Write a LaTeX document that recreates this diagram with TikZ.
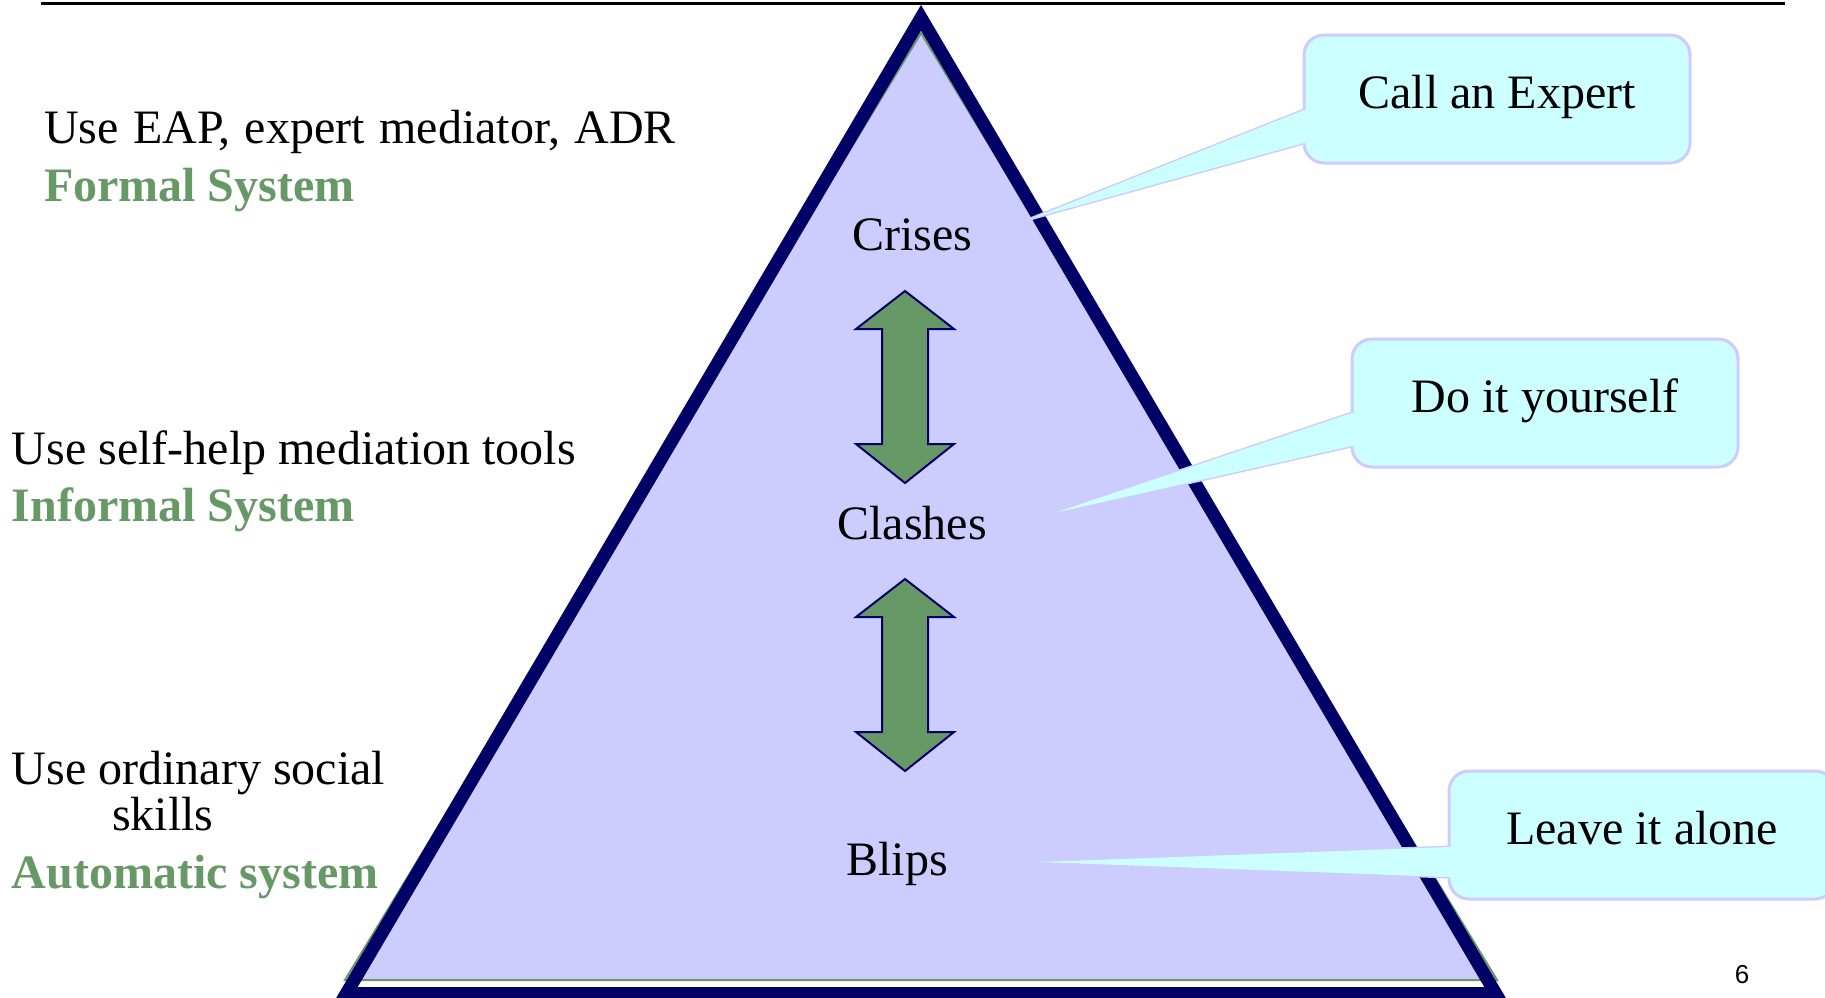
\documentclass[tikz,border=0pt]{standalone}
\usepackage{fontspec}
\setmainfont{Liberation Serif}
\newfontfamily\pagenumfont{Liberation Sans}
\usetikzlibrary{calc}
\definecolor{navy}{HTML}{000066}
\definecolor{lavender}{HTML}{CCCCFF}
\definecolor{sagegreen}{HTML}{669966}
\definecolor{paleaqua}{HTML}{CCFFFF}

\begin{document}
\begin{tikzpicture}[x=1pt,y=-1pt,
  txt/.style={inner sep=0pt, outer sep=0pt, anchor=base west, font=\fontsize{48}{58}\selectfont},
  sys/.style={txt, font=\fontsize{48}{58}\selectfont\bfseries, text=sagegreen},
  lvl/.style={inner sep=0pt, outer sep=0pt, anchor=base, font=\fontsize{48}{58}\selectfont},
  callbox/.style={draw=lavender, fill=paleaqua, line width=3pt, rounded corners=20pt,
    minimum width=386pt, minimum height=128pt, inner sep=0pt, outer sep=0pt,
    text height=30pt, text depth=12pt, font=\fontsize{48}{58}\selectfont},
  callfill/.style={fill=paleaqua},
  calledge/.style={draw=lavender, line width=3pt, line join=miter},
  blockarrow/.style={fill=sagegreen, draw=navy, line width=2pt, line join=miter}
]
\useasboundingbox (0,0) rectangle (1825,997);
\clip (0,0) rectangle (1825,997);

% rule across the top
\coordinate (ruleL) at (41,3);
\coordinate (ruleR) at (1785,3);
\draw[line width=3pt] (ruleL) -- (ruleR);

% pyramid: lavender body with green rim, navy frame on top
\filldraw[fill=lavender, draw=sagegreen, line width=2pt] (921,33) -- (345,980) -- (1497,980) -- cycle;
\draw[navy, line width=13pt, line join=miter] (921,17.8) -- (346.3,993.5) -- (1495.7,993.5) -- cycle;

% levels of the pyramid
\node[lvl] (crises)  at (912,250) {Crises};
\node[lvl] (clashes) at (912,539) {Clashes};
\node[lvl] (blips)   at (897,875) {Blips};

% two-way block arrows between the levels
\draw[blockarrow] (905,291) -- (954,329) -- (928,329) -- (928,444) -- (954,444) -- (905,483)
  -- (856,444) -- (882,444) -- (882,329) -- (856,329) -- cycle;
\draw[blockarrow] (905,579) -- (954,617) -- (928,617) -- (928,732) -- (954,732) -- (905,771)
  -- (856,732) -- (882,732) -- (882,617) -- (856,617) -- cycle;

% left-hand descriptions
\node[txt] (formalUse)   at (44,143) {\spaceskip=14.5pt plus 2pt Use EAP, expert mediator, ADR};
\node[sys] (formalSys)   at (44,201) {Formal System};
\node[txt] (informalUse) at (12,464) {Use self-help mediation tools};
\node[sys] (informalSys) at (12,521) {Informal System};
\node[txt] (autoUse)     at (12,784) {Use ordinary social};
\node[txt] (autoUseB)    at (112,830) {skills};
\node[sys] (autoSys)     at (12,888) {Automatic system};

% callouts
\node[callbox] (expert) at (1497,99)  {Call an Expert};
\node[callbox] (diy)    at (1545,403) {Do it yourself};
\node[callbox] (alone)  at (1642,835) {Leave it alone};

\coordinate (expertTip) at (1030,219);
\coordinate (diyTip)    at (1054,513);
\coordinate (aloneTip)  at (1039,862);

% pointer rims first, then the pale fill over them so the fill reaches the tip
\foreach \cb/\tp/\ya/\yb in {expert/expertTip/75/108, diy/diyTip/74/107, alone/aloneTip/76/106}{
  \draw[calledge] ($(\cb.north west)+(0,\ya)$) -- (\tp) -- ($(\cb.north west)+(0,\yb)$);
  \fill[callfill] ($(\cb.north west)+(5,\ya)$) -- ($(\cb.north west)+(0,\ya)$) -- (\tp)
    -- ($(\cb.north west)+(0,\yb)$) -- ($(\cb.north west)+(5,\yb)$) -- cycle;
}

% page number
\node[inner sep=0pt, anchor=base, font=\pagenumfont\fontsize{26}{30}\selectfont] (pagenum) at (1742,983) {6};
\end{tikzpicture}
\end{document}
